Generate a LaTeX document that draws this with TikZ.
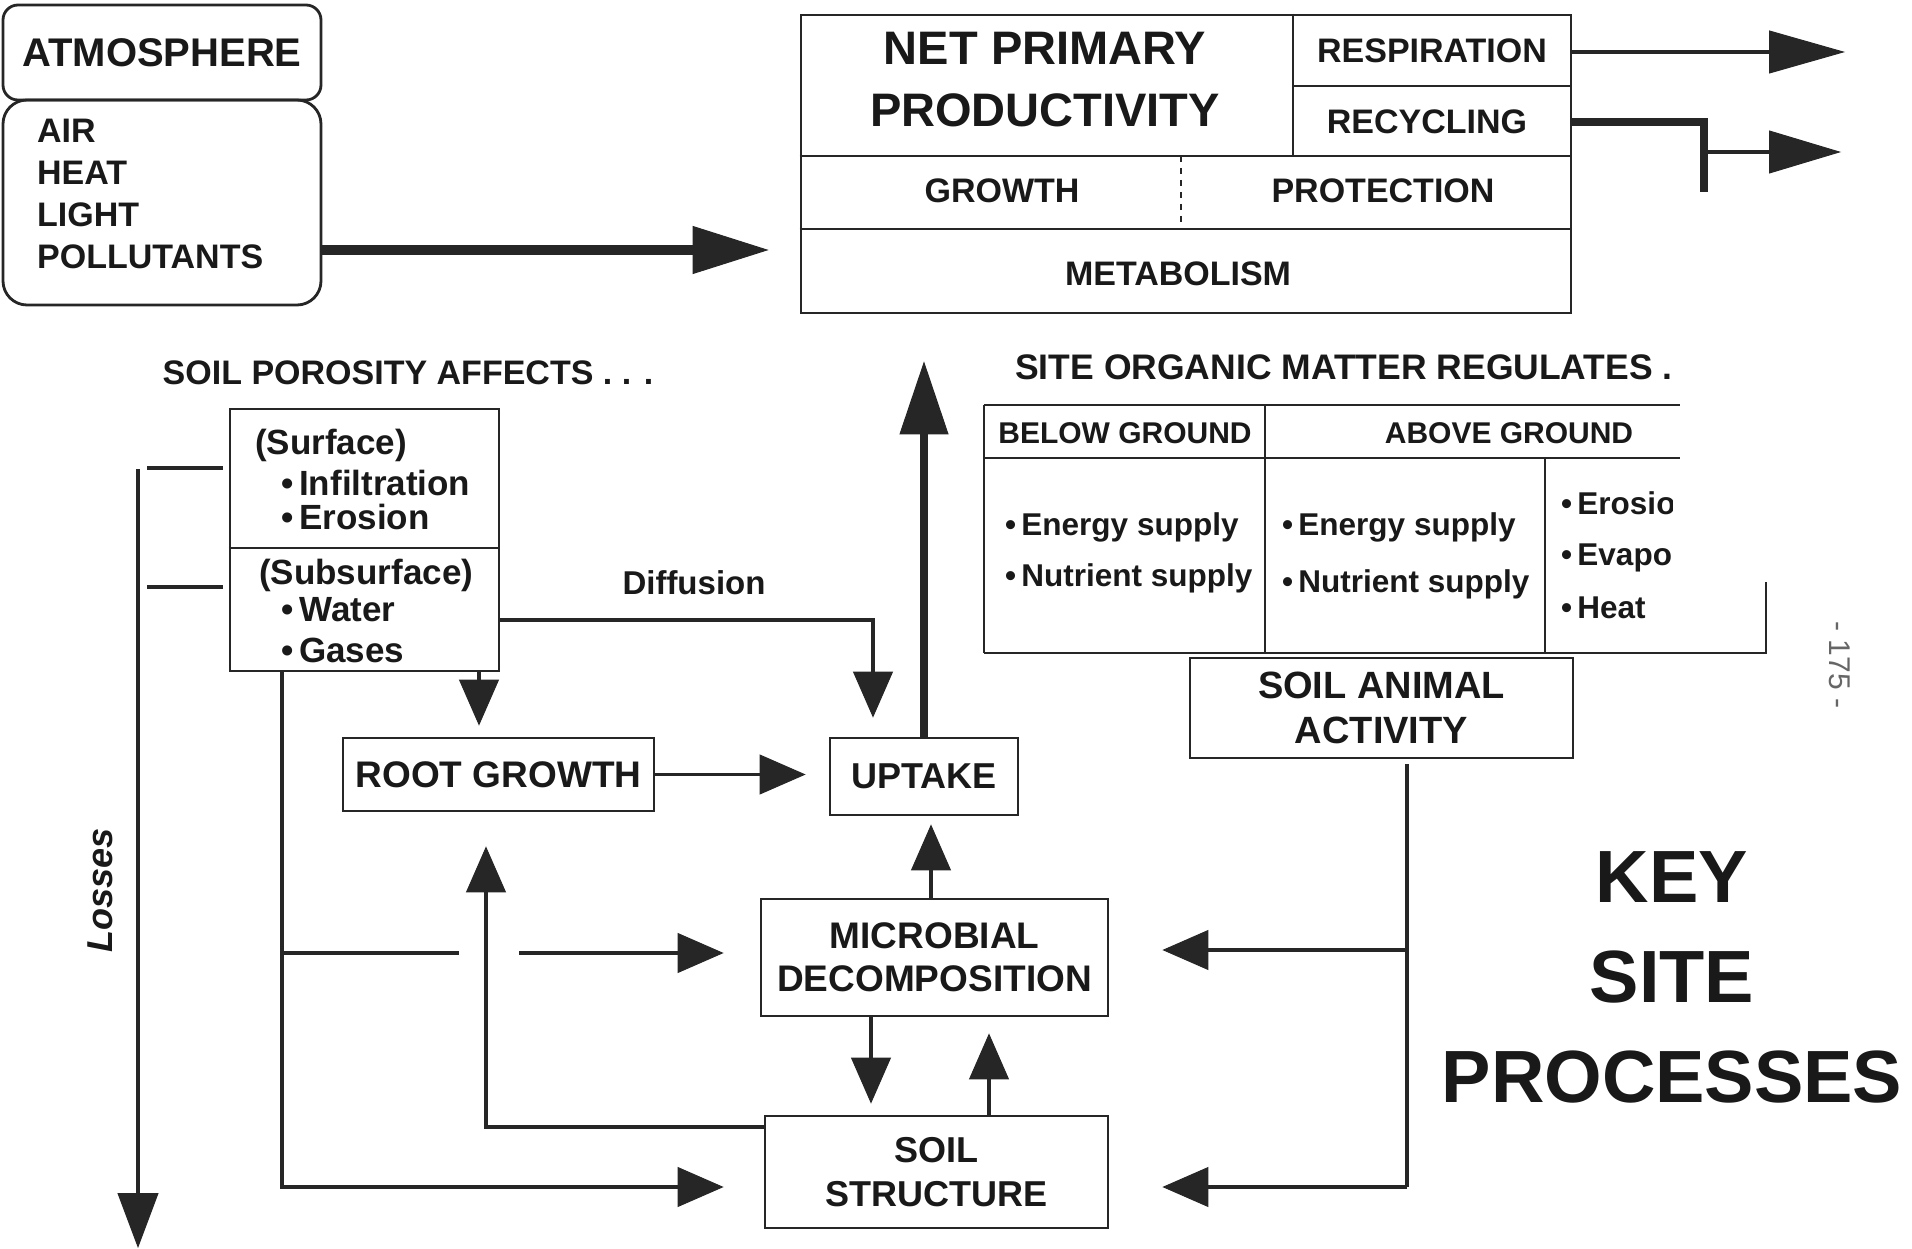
\documentclass[tikz,border=0pt]{standalone}
\usepackage{fontspec}
\setmainfont{Liberation Sans}
\usetikzlibrary{arrows.meta}
\newcommand\fz[2]{\fontsize{#1}{#2}\selectfont}
\begin{document}
\begin{tikzpicture}[x=1pt,y=-1pt,
  ink/.style={draw=black!85, line width=2.8pt},
  box/.style={ink, rectangle, inner sep=0pt, text=black!90},
  rbox/.style={ink, rectangle, inner sep=0pt, text=black!90},
  lbl/.style={inner sep=0pt, text=black!90},
  conn/.style={draw=black!85, line width=3.2pt},
  tipS/.style={-{Triangle[length=46pt,width=40pt,fill=black!85,line width=1pt]}},
]
\useasboundingbox[fill=white] (0,0) rectangle (1912,1249);

% ---------- atmosphere ----------
\node[rbox, rounded corners=15pt, minimum width=318pt, minimum height=95pt, font=\bfseries\fz{40}{40}] (atm) at (162,52.5) {ATMOSPHERE};
\node[rbox, rounded corners=24pt, minimum width=318pt, minimum height=205pt] (atmlist) at (162,202.5) {};
\node[lbl, anchor=west, align=left, font=\bfseries\fz{34}{42}] (atmlistt) at (37,194) {AIR\\HEAT\\LIGHT\\POLLUTANTS};

% ---------- net primary productivity ----------
\node[box, minimum width=770pt, minimum height=298pt] (npp) at (1186,164) {};
\coordinate (ya) at (0,86);
\coordinate (yb) at (0,156);
\coordinate (yc) at (0,229);
\coordinate (xa) at (1293,0);
\coordinate (xb) at (1181,0);
\draw[ink] (xa |- npp.north) -- (xa |- yb);
\draw[ink] (xa |- ya) -- (npp.east |- ya);
\draw[ink] (npp.west |- yb) -- (npp.east |- yb);
\draw[ink] (npp.west |- yc) -- (npp.east |- yc);
\draw[draw=black!85, line width=1.6pt, dash pattern=on 6pt off 6pt] (xb |- yb) -- (xb |- yc);
\node[lbl, font=\bfseries\fz{47}{47}] (npp1) at (1045,48) {NET PRIMARY};
\node[lbl, font=\bfseries\fz{47}{47}] (npp2) at (1045,110) {PRODUCTIVITY};
\node[lbl, font=\bfseries\fz{34}{34}] (resp) at (1432,51) {RESPIRATION};
\node[lbl, font=\bfseries\fz{34}{34}] (recy) at (1427,122) {RECYCLING};
\node[lbl, font=\bfseries\fz{34}{34}] (growth) at (1002,191) {GROWTH};
\node[lbl, font=\bfseries\fz{34}{34}] (prot) at (1383,191) {PROTECTION};
\node[lbl, font=\bfseries\fz{34}{34}] (metab) at (1178,274) {METABOLISM};

% atmosphere -> NPP
\draw[conn, line width=10pt, -{Triangle[length=76pt,width=48pt,fill=black!85,line width=1pt]}, shorten >=31pt]
  ([yshift=-47.5pt]atmlist.east) -- ([yshift=-47.5pt]atmlist.east -| npp.west);

% respiration / recycling outputs
\coordinate (respend) at (1845,52);
\draw[conn, -{Triangle[length=76pt,width=43pt,fill=black!85,line width=1pt]}] (npp.east |- respend) -- (respend);
\coordinate (rc1) at (1704,122);
\coordinate (rc2) at (1704,192);
\coordinate (recend) at (1841,152);
\draw[draw=black!85, line width=8pt] (npp.east |- rc1) -- (rc1) -- (rc2);
\draw[conn, -{Triangle[length=72pt,width=43pt,fill=black!85,line width=1pt]}] (rc1 |- recend) -- (recend);

% ---------- soil porosity ----------
\node[lbl, font=\bfseries\fz{34}{34}] (porlbl) at (408,373) {SOIL POROSITY AFFECTS . . .};
\node[box, minimum width=269pt, minimum height=262pt] (poro) at (364.5,540) {};
\coordinate (ydiv) at (0,548);
\draw[ink] (poro.west |- ydiv) -- (poro.east |- ydiv);
\node[lbl, anchor=west, font=\bfseries\fz{35}{35}] (surf) at (255,445) {(Surface)};
\node[lbl, anchor=west, font=\bfseries\fz{35}{35}] (infil) at (281,483) {\textbullet\,Infiltration};
\node[lbl, anchor=west, font=\bfseries\fz{35}{35}] (eros) at (281,517) {\textbullet\,Erosion};
\node[lbl, anchor=west, font=\bfseries\fz{35}{35}] (subs) at (259,575) {(Subsurface)};
\node[lbl, anchor=west, font=\bfseries\fz{35}{35}] (water) at (281,610) {\textbullet\,Water};
\node[lbl, anchor=west, font=\bfseries\fz{35}{35}] (gases) at (281,650) {\textbullet\,Gases};

% losses
\coordinate (losstop) at (138,469);
\coordinate (lossend) at (138,1248);
\draw[conn, -{Triangle[length=55pt,width=41pt,fill=black!85,line width=1pt]}] (losstop) -- (lossend);
\coordinate (s1) at (147,468);
\coordinate (s2) at (147,587);
\draw[conn, shorten >=6pt] (s1) -- (poro.west |- s1);
\draw[conn, shorten >=6pt] (s2) -- (poro.west |- s2);
\node[lbl, rotate=90, font=\bfseries\itshape\fz{36}{36}] (losses) at (100,890) {Losses};

% ---------- central boxes ----------
\node[box, minimum width=311pt, minimum height=73pt, font=\bfseries\fz{37}{37}] (root) at (498.5,774.5) {ROOT GROWTH};
\node[box, minimum width=188pt, minimum height=77pt, font=\bfseries\fz{36}{36}] (uptake) at (924,776.5) {UPTAKE};
\node[box, minimum width=347pt, minimum height=117pt, align=center, font=\bfseries\fz{37}{43}] (micro) at (934.5,957.5) {MICROBIAL\\DECOMPOSITION};
\node[box, minimum width=343pt, minimum height=112pt, align=center, font=\bfseries\fz{36}{44}] (soil) at (936.5,1172) {SOIL\\STRUCTURE};

% porosity -> root growth
\coordinate (rx) at (479,700);
\draw[conn, tipS, shorten >=11pt] (rx |- poro.south) -- (rx |- root.north);
% root -> uptake
\draw[conn, tipS, shorten >=23pt] (root.east) -- (root.east -| uptake.west);
% diffusion
\coordinate (dc) at (873,620);
\draw[conn, tipS, shorten >=19pt] (poro.east |- dc) -- (dc) -- (dc |- uptake.north);
\node[lbl, font=\bfseries\fz{33}{33}] (diff) at (694,583) {Diffusion};
% uptake -> NPP
\draw[conn, line width=8.5pt, -{Triangle[length=73pt,width=49pt,fill=black!85,line width=1pt]}, shorten >=47pt] (uptake.north) -- (uptake.north |- npp.south);
% microbial -> uptake
\coordinate (mu) at (931,860);
\draw[conn, tipS, shorten >=8pt] (mu |- micro.north) -- (mu |- uptake.south);
% microbial -> soil
\coordinate (ms) at (871,1060);
\draw[conn, tipS, shorten >=11pt] (ms |- micro.south) -- (ms |- soil.north);
% soil -> microbial
\coordinate (sm) at (989,1060);
\draw[conn, tipS, shorten >=16pt] (sm |- soil.north) -- (sm |- micro.south);
% soil -> root
\coordinate (sr) at (486,1127);
\draw[conn, tipS, shorten >=34pt] (soil.west |- sr) -- (sr) -- (sr |- root.south);
% porosity vertical trunk
\coordinate (pv) at (282,1187);
\coordinate (pb) at (282,953);
\coordinate (hopa) at (459,953);
\coordinate (hopb) at (519,953);
\draw[conn, tipS, shorten >=40pt] (pv |- poro.south) -- (pv) -- (pv -| soil.west);
\draw[conn] (pb) -- (hopa);
\draw[conn, tipS, shorten >=36pt] (hopb) -- (hopb -| micro.west);

% ---------- site organic matter ----------
\node[lbl, font=\bfseries\fz{35.5}{35.5}] (site) at (1344,367) {SITE ORGANIC MATTER REGULATES .};
\draw[ink] (984,405) -- (1680,405);
\draw[ink] (984,405) -- (984,653);
\draw[ink] (984,458) -- (1680,458);
\draw[ink] (1265,405) -- (1265,653);
\draw[ink] (1545,458) -- (1545,653);
\draw[ink] (984,653) -- (1766,653) -- (1766,582);
\node[lbl, font=\bfseries\fz{30}{30}] (below) at (1125,433) {BELOW GROUND};
\node[lbl, font=\bfseries\fz{30}{30}] (above) at (1509,433) {ABOVE GROUND};
\node[lbl, anchor=west, font=\bfseries\fz{31.5}{31.5}] (e1) at (1005,527) {\textbullet\,Energy supply};
\node[lbl, anchor=west, font=\bfseries\fz{31.5}{31.5}] (n1) at (1005,578) {\textbullet\,Nutrient supply};
\node[lbl, anchor=west, font=\bfseries\fz{31.5}{31.5}] (e2) at (1282,527) {\textbullet\,Energy supply};
\node[lbl, anchor=west, font=\bfseries\fz{31.5}{31.5}] (n2) at (1282,584) {\textbullet\,Nutrient supply};
\begin{scope}
\clip (1550,470) rectangle (1672,640);
\node[lbl, anchor=west, font=\bfseries\fz{31.5}{31.5}] (er3) at (1561,503) {\textbullet\,Erosion};
\node[lbl, anchor=west, font=\bfseries\fz{31.5}{31.5}] (ev3) at (1561,557) {\textbullet\,Evaporation};
\node[lbl, anchor=west, font=\bfseries\fz{31.5}{31.5}] (he3) at (1561,608) {\textbullet\,Heat};
\end{scope}

% soil animal activity
\node[box, minimum width=383pt, minimum height=100pt, align=center, font=\bfseries\fz{38}{45}] (animal) at (1381.5,708) {SOIL ANIMAL\\ACTIVITY};
\coordinate (av) at (1407,1187);
\coordinate (ab) at (1407,950);
\draw[conn] ([yshift=-5pt]av |- animal.south) -- (av);
\draw[conn, tipS, shorten >=53pt] (ab) -- (ab -| micro.east);
\draw[conn, tipS, shorten >=53pt] (av) -- (av -| soil.east);

% page number
\node[lbl, rotate=-90, text=black!60, font=\fz{30}{30}] (pg) at (1840,665) {- 175 -};

% title
\node[lbl, align=center, font=\bfseries\fz{74}{100}] (key) at (1672,977) {KEY\\SITE\\PROCESSES};
\end{tikzpicture}
\end{document}
